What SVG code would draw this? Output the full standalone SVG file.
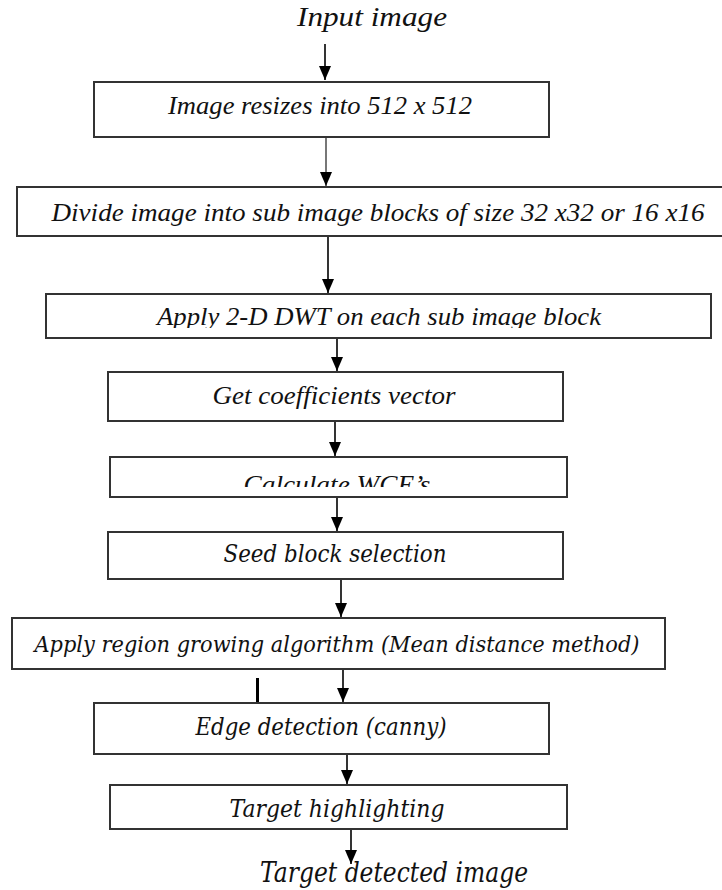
<svg xmlns="http://www.w3.org/2000/svg" width="722" height="890" viewBox="0 0 722 890">
<style>
.box{fill:#fff;stroke:#333;stroke-width:2}
.conn{stroke:#000;stroke-width:1.6;fill:none;marker-end:url(#ah)}
</style>
<defs>
<marker id="ah" markerUnits="userSpaceOnUse" markerWidth="14" markerHeight="12" refX="14" refY="6" orient="auto" viewBox="0 0 14 12">
<path d="M0,0 L14,6 L0,12 Z" fill="#000"/>
</marker>
<clipPath id="clipDwt"><rect x="0" y="290" width="722" height="38"/></clipPath>
<clipPath id="clipWce"><rect x="0" y="455" width="722" height="32"/></clipPath>
</defs>
<rect width="722" height="890" fill="#fff"/>

<g id="connectors">
<path class="conn" d="M325,44 V80"/>
<path class="conn" d="M326,137 V186" style="stroke:#777;stroke-width:2"/>
<path class="conn" d="M328,236 V293"/>
<path class="conn" d="M337,338 V371"/>
<path class="conn" d="M335,421 V456"/>
<path class="conn" d="M337,497 V531"/>
<path class="conn" d="M341,579 V617"/>
<path class="conn" d="M343,669 V702"/>
<path class="conn" d="M347,754 V784"/>
<path class="conn" d="M351,829 V864"/>
<line x1="257.5" y1="678" x2="257.5" y2="704" stroke="#000" stroke-width="3"/>
</g>

<g font-family="'Liberation Serif', 'Times New Roman', serif" font-style="italic" fill="#111" text-anchor="middle">
<g id="input"><text x="372" y="26" font-size="27" textLength="150" lengthAdjust="spacingAndGlyphs">Input image</text></g>

<g id="n1"><rect class="box" x="94" y="82" width="455" height="55"/>
<text x="320" y="114" font-size="25" textLength="304" lengthAdjust="spacingAndGlyphs">Image resizes into 512 x 512</text></g>

<g id="n2"><rect class="box" x="17" y="187" width="712" height="49"/>
<text x="378" y="221" font-size="25" textLength="653" lengthAdjust="spacingAndGlyphs">Divide image into sub image blocks of size 32 x32 or 16 x16</text></g>

<g id="n3"><rect class="box" x="46" y="294" width="665" height="44"/>
<text x="379" y="325" font-size="25" textLength="444" lengthAdjust="spacingAndGlyphs" clip-path="url(#clipDwt)">Apply 2-D DWT on each sub image block</text></g>

<g id="n4"><rect class="box" x="108" y="372" width="455" height="49"/>
<text x="334" y="404" font-size="25" textLength="243" lengthAdjust="spacingAndGlyphs">Get coefficients vector</text></g>

<g id="n5"><rect class="box" x="110" y="457" width="457" height="40"/>
<text x="337" y="493" font-size="25" textLength="187" lengthAdjust="spacingAndGlyphs" clip-path="url(#clipWce)">Calculate WCE’s</text></g>
</g>

<g font-family="'DejaVu Serif', 'Liberation Serif', serif" font-style="italic" fill="#111" text-anchor="middle">
<g id="n6"><rect class="box" x="108" y="532" width="455" height="47"/>
<text x="335" y="562" font-size="24" textLength="223" lengthAdjust="spacingAndGlyphs">Seed block selection</text></g>

<g id="n7"><rect class="box" x="12" y="618" width="653" height="51"/>
<text x="337" y="652" font-size="23" textLength="605" lengthAdjust="spacingAndGlyphs">Apply region growing algorithm (Mean distance method)</text></g>

<g id="n8"><rect class="box" x="94" y="703" width="455" height="51"/>
<text x="321" y="735" font-size="24" textLength="251" lengthAdjust="spacingAndGlyphs">Edge detection (canny)</text></g>

<g id="n9"><rect class="box" x="110" y="785" width="457" height="44"/>
<text x="337" y="817" font-size="24" textLength="215" lengthAdjust="spacingAndGlyphs">Target highlighting</text></g>

<g id="output"><text x="394" y="882" font-size="27" textLength="268" lengthAdjust="spacingAndGlyphs">Target detected image</text></g>
</g>
</svg>
